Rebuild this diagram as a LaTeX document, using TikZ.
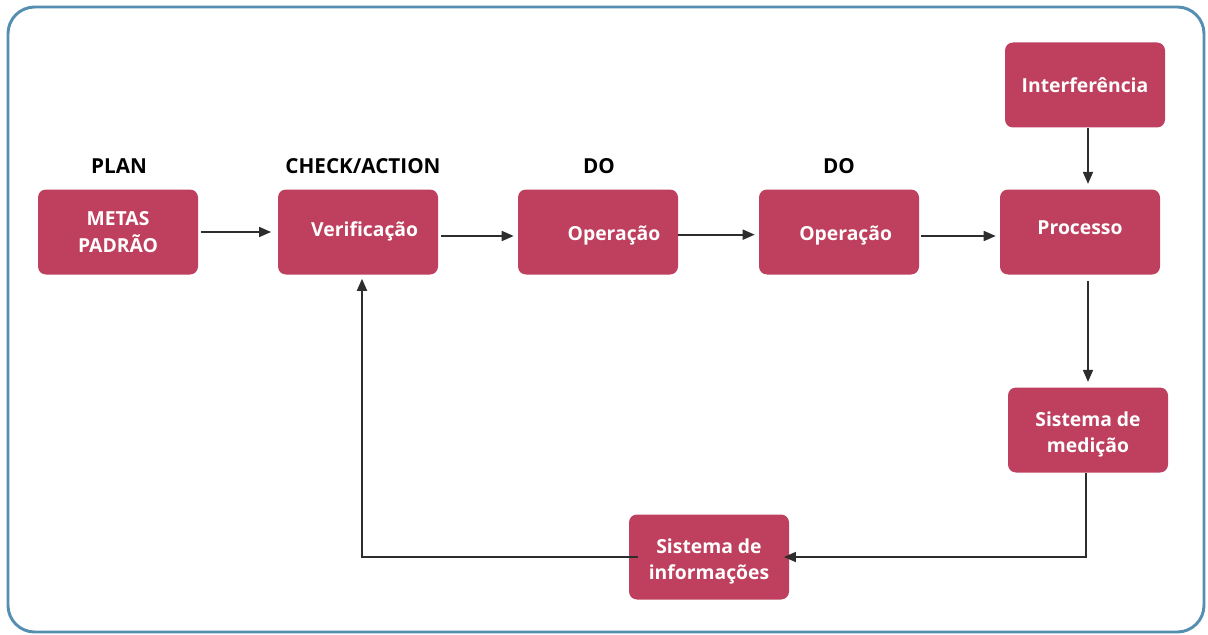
\documentclass[tikz,border=0pt]{standalone}
\usepackage{fontspec}
\setmainfont{Open Sans}
\usetikzlibrary{arrows.meta}
\definecolor{boxred}{RGB}{190,64,94}
\definecolor{frameblue}{RGB}{84,142,176}
\definecolor{linegrey}{RGB}{45,45,45}
% text block nudged inside its box without changing the box size
\newcommand\nudged[3]{\hspace*{#1}\raisebox{#2}[\height][\depth]{\begin{tabular}{@{}c@{}}#3\end{tabular}}}
\begin{document}
\begin{tikzpicture}[x=0.75pt,y=-0.75pt,
  stagebox/.style={fill=boxred,rounded corners=6pt,minimum width=120pt,minimum height=63.75pt,
    inner sep=0pt,text=white,font=\bfseries\fontsize{14.5}{20}\selectfont,align=center},
  stagelabel/.style={font=\bfseries\fontsize{15.5}{17}\selectfont,text=black,inner sep=0pt},
  flow/.style={draw=linegrey,line width=1.3pt,-{Triangle[length=9pt,width=7.5pt]}}]
\useasboundingbox (0,0) rectangle (1208,635);
\draw[frameblue,line width=2.2pt,rounded corners=20pt] (8,7) rectangle (1204,632);

% main chain
\node[stagebox] (metas) at (118,232) {\fontsize{14.5}{17.5}\selectfont METAS\\PADRÃO};
\node[stagebox] (verif) at (358,232) {\nudged{10pt}{1pt}{Verificação}};
\node[stagebox] (op1) at (598,232) {\nudged{24pt}{-2pt}{Operação}};
\node[stagebox] (op2) at (839,232) {\nudged{10pt}{-2pt}{Operação}};
\node[stagebox] (proc) at (1080,232) {\nudged{0pt}{2pt}{Processo}};
\node[stagebox] (interf) at (1085,85) {Interferência};
\node[stagebox] (medic) at (1088,430) {\nudged{0pt}{-3pt}{Sistema de\\medição}};
\node[stagebox] (info) at (709,557) {\nudged{0pt}{-3pt}{Sistema de\\informações}};

% phase labels
\node[stagelabel] (lplan) at (119,166) {PLAN};
\node[stagelabel] (lcheck) at (363,166) {CHECK/ACTION};
\node[stagelabel] (ldo1) at (599,166) {DO};
\node[stagelabel] (ldo2) at (839,166) {DO};

% connectors
\draw[flow] ([xshift=2pt]metas.east) -- ([xshift=-5pt]verif.west);
\draw[flow] ([xshift=2pt,yshift=-3pt]verif.east) -- ([xshift=-3pt,yshift=-3pt]op1.west);
\draw[flow] ([yshift=-2pt]op1.east) -- ([xshift=-3pt,yshift=-2pt]op2.west);
\draw[flow] ([xshift=1pt,yshift=-3pt]op2.east) -- ([xshift=-3pt,yshift=-3pt]proc.west);
\draw[flow] (interf.south -| 1088,0) -- ([yshift=4pt]proc.north -| 1088,0);
\draw[flow] ([yshift=-5pt]proc.south -| 1088,0) -- ([yshift=4pt]medic.north -| 1088,0);
\draw[flow] (medic.south -| 1086,0) |- ([xshift=-4pt]info.east);
\draw[flow] ([xshift=7pt]info.west) -| ([yshift=-3pt]verif.south -| 362,0);
\end{tikzpicture}
\end{document}
